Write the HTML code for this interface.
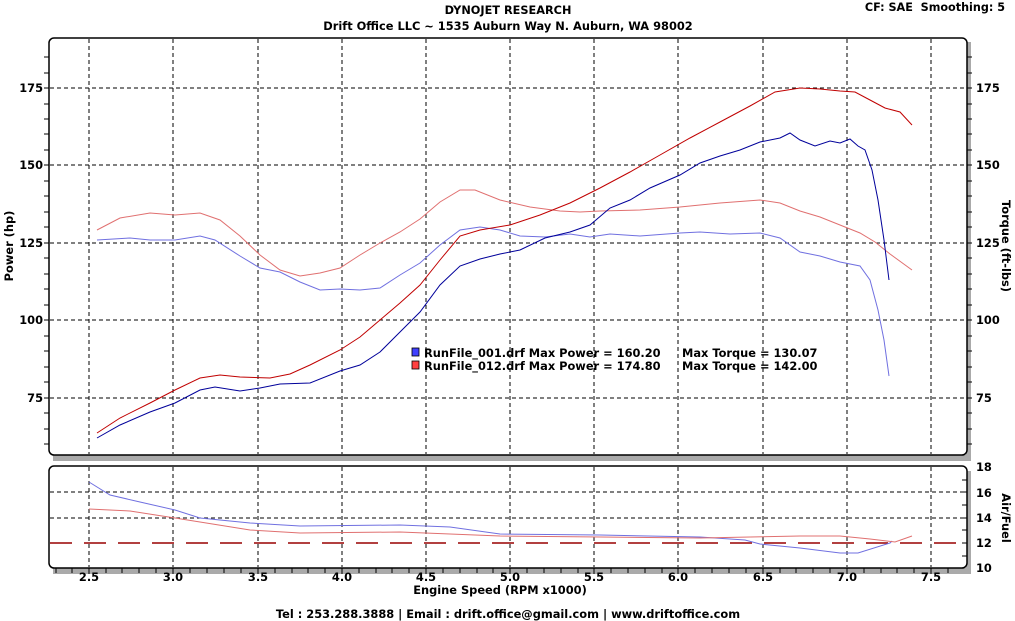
<!DOCTYPE html>
<html><head><meta charset="utf-8"><style>
html,body{margin:0;padding:0;background:#fff;}
svg{display:block;font-family:"DejaVu Sans","Liberation Sans",sans-serif;font-weight:bold;}
</style></head><body>
<svg width="1015" height="621" viewBox="0 0 1015 621" xmlns="http://www.w3.org/2000/svg">
<text x="508" y="14" font-size="11.3" text-anchor="middle">DYNOJET RESEARCH</text>
<text x="508" y="30" font-size="11.4" text-anchor="middle">Drift Office LLC ~ 1535 Auburn Way N. Auburn, WA 98002</text>
<text x="1005" y="11" font-size="11.2" text-anchor="end" xml:space="preserve">CF: SAE  Smoothing: 5</text>
<!-- shadows -->
<rect x="53" y="455" width="918" height="6" fill="#aaa"/>
<rect x="966" y="42" width="5" height="419" fill="#aaa"/>
<rect x="53" y="568" width="918" height="6" fill="#aaa"/>
<rect x="966" y="471" width="5" height="103" fill="#aaa"/>
<rect x="49" y="38" width="918" height="417" rx="5" fill="#fff" stroke="#000" stroke-width="1.5"/>
<rect x="49" y="466" width="918" height="102" rx="5" fill="#fff" stroke="#000" stroke-width="1.5"/>
<g stroke="#000" stroke-width="1" stroke-dasharray="4,3">
<path d="M89 39V454M173 39V454M258 39V454M342 39V454M426 39V454M510 39V454M594 39V454M678 39V454M763 39V454M847 39V454M931 39V454"/>
<path d="M50 88H966M50 165H966M50 243H966M50 320H966M50 398H966"/>
<path d="M89 467V567M173 467V567M258 467V567M342 467V567M426 467V567M510 467V567M594 467V567M678 467V567M763 467V567M847 467V567M931 467V567"/>
<path d="M50 492H966M50 518H966"/>
</g>
<path d="M50 543H966" stroke="#900" stroke-width="1.5" stroke-dasharray="22,12"/>
<g stroke="#000" stroke-width="1">
<path d="M44 57H49M44 73H49M44 88H49M44 104H49M44 119H49M44 134H49M44 150H49M44 165H49M44 181H49M44 196H49M44 212H49M44 227H49M44 243H49M44 258H49M44 274H49M44 289H49M44 305H49M44 320H49M44 336H49M44 351H49M44 367H49M44 382H49M44 398H49M44 413H49M44 429H49M44 444H49"/>
<path d="M967 57H972M967 73H972M967 88H972M967 104H972M967 119H972M967 134H972M967 150H972M967 165H972M967 181H972M967 196H972M967 212H972M967 227H972M967 243H972M967 258H972M967 274H972M967 289H972M967 305H972M967 320H972M967 336H972M967 351H972M967 367H972M967 382H972M967 398H972M967 413H972M967 429H972M967 444H972"/>
<path d="M962 480H967M962 492H967M962 505H967M962 518H967M962 530H967M962 543H967M962 556H967"/>
<path d="M56 568V573M72 568V573M89 568V574M106 568V573M122 568V573M139 568V573M156 568V573M173 568V574M190 568V573M207 568V573M224 568V573M241 568V573M258 568V574M275 568V573M292 568V573M308 568V573M325 568V573M342 568V574M359 568V573M376 568V573M392 568V573M409 568V573M426 568V574M443 568V573M460 568V573M477 568V573M493 568V573M510 568V574M527 568V573M544 568V573M561 568V573M578 568V573M594 568V574M611 568V573M628 568V573M645 568V573M662 568V573M678 568V574M695 568V573M712 568V573M729 568V573M746 568V573M763 568V574M780 568V573M796 568V573M813 568V573M830 568V573M847 568V574M864 568V573M881 568V573M897 568V573M914 568V573M931 568V574M948 568V573"/>
</g>
<g font-size="11.4">
<g text-anchor="end"><text x="43" y="92">175</text><text x="43" y="169">150</text><text x="43" y="247">125</text><text x="43" y="324">100</text><text x="43" y="402">75</text></g>
<text x="976" y="92">175</text><text x="976" y="169">150</text><text x="976" y="247">125</text><text x="976" y="324">100</text><text x="976" y="402">75</text>
<text x="976" y="471">18</text><text x="976" y="497">16</text><text x="976" y="522">14</text><text x="976" y="547">12</text><text x="976" y="572">10</text>
<g text-anchor="middle"><text x="89" y="581">2.5</text><text x="173" y="581">3.0</text><text x="258" y="581">3.5</text><text x="342" y="581">4.0</text><text x="426" y="581">4.5</text><text x="510" y="581">5.0</text><text x="594" y="581">5.5</text><text x="678" y="581">6.0</text><text x="763" y="581">6.5</text><text x="847" y="581">7.0</text><text x="931" y="581">7.5</text></g>
<text x="500" y="594" text-anchor="middle">Engine Speed (RPM x1000)</text>
<text transform="translate(13,246) rotate(-90)" text-anchor="middle">Power (hp)</text>
<text transform="translate(1002,246) rotate(90)" text-anchor="middle">Torque (ft-lbs)</text>
<text transform="translate(1002,518) rotate(90)" text-anchor="middle">Air/Fuel</text>
<text x="508" y="618" text-anchor="middle">Tel : 253.288.3888 | Email : drift.office@gmail.com | www.driftoffice.com</text>
<text x="424" y="357">RunFile_001.drf Max Power = 160.20</text><text x="682" y="357">Max Torque = 130.07</text>
<text x="424" y="370">RunFile_012.drf Max Power = 174.80</text><text x="682" y="370">Max Torque = 142.00</text>
</g>
<rect x="412" y="348" width="7" height="8" fill="#4040ff" stroke="#000" stroke-width="0.8"/>
<rect x="412" y="361" width="7" height="8" fill="#ff4040" stroke="#000" stroke-width="0.8"/>
<g fill="none" stroke-width="1">
<polyline stroke="#7070e0" points="97,240 130,238 150,240 175,240 200,236 215,240 240,256 260,268 280,272 300,282 320,290 340,289 360,290 380,288 400,275 420,263 440,245 460,230 480,227 500,230 520,236 545,237 570,234 590,237 610,234 640,236 680,233 700,232 730,234 760,233 780,238 800,252 820,256 840,262 860,266 870,280 878,310 884,340 889,376"/>
<polyline stroke="#e07070" points="97,230 120,218 150,213 175,215 200,213 220,220 240,236 260,255 280,270 300,276 320,273 340,268 360,255 380,243 400,232 420,219 440,202 460,190 475,190 500,200 530,207 560,211 580,212 600,211 640,210 680,207 720,203 760,200 780,203 800,211 820,217 840,225 860,233 875,242 890,254 912,270"/>
<polyline stroke="#00009a" points="97,438 120,425 150,412 175,403 200,390 215,387 240,391 260,388 280,384 310,383 340,371 360,365 380,352 400,332 420,312 440,285 460,266 480,259 500,254 520,250 545,238 570,232 590,225 610,208 630,200 650,188 680,175 700,163 720,156 740,150 760,142 780,138 790,133 800,140 815,146 830,141 840,143 850,139 858,146 865,150 872,170 878,200 884,240 889,280"/>
<polyline stroke="#c00000" points="97,433 120,418 150,403 175,390 200,378 220,375 240,377 270,378 290,374 310,365 340,350 360,337 380,320 400,303 420,285 440,260 460,236 480,230 510,225 540,215 570,203 600,188 630,172 660,155 690,138 720,122 750,106 775,92 800,88 820,89 840,91 855,92 870,100 885,108 900,112 912,125"/>
<polyline stroke="#7070e0" points="89,482 110,495 140,502 175,510 200,518 250,523 300,526 400,525 450,527 500,534 600,535 700,537 745,540 760,544 800,548 840,553 858,553 890,543 892,541"/>
<polyline stroke="#e07070" points="89,509 130,511 175,518 200,522 250,530 300,533 400,532 500,536 600,537 700,538 800,536 840,536 870,539 895,542 912,536"/>
</g>
</svg>
</body></html>
